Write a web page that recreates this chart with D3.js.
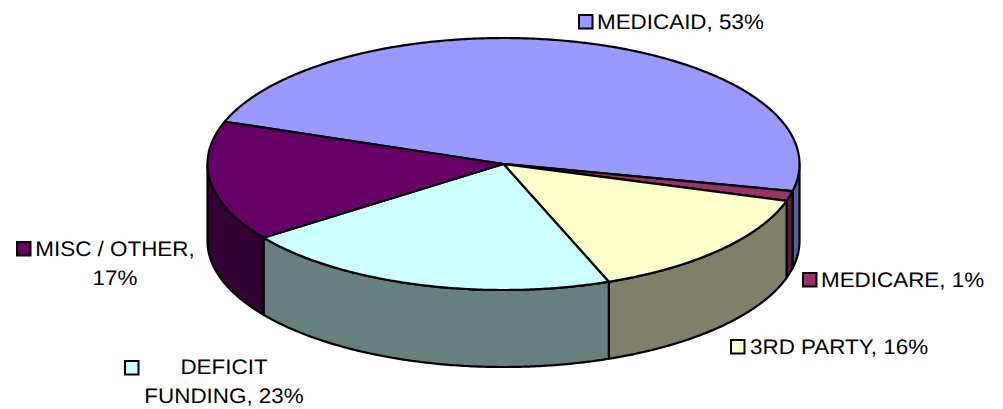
<!DOCTYPE html>
<html><head><meta charset="utf-8">
<script src="https://cdn.jsdelivr.net/npm/d3@7/dist/d3.min.js"></script>
<style>html,body{margin:0;padding:0;background:#fff}svg{display:block}text{font-family:"Liberation Sans",Arial,sans-serif;font-size:21px;fill:#000;text-rendering:geometricPrecision}</style>
</head><body><svg id="c" width="1003" height="409"></svg>
<script>
const categories=["MEDICAID","MEDICARE","3RD PARTY","DEFICIT FUNDING","MISC / OTHER"];
const values=[53,1.4,16,23,17];
const topColors=["#9999ff","#993366","#ffffcc","#ccffff","#660066"];
const sideColors=["#5c5c99","#5c1f3d","#80806a","#668080","#330033"];
const labelLines=[["MEDICAID, 53%"],["MEDICARE, 1%"],["3RD PARTY, 16%"],["DEFICIT","FUNDING, 23%"],["MISC / OTHER,","17%"]];
const keyX=[578,802,730,124,16], keyY=[14,272,339,360,241];
const textX=[597,821,750,224,115], textY=[28.5,286.5,353.5,374,256], lineGap=29;
const stretch=1.067;

const cx=503.5,cy=164,rx=296,ry=126,depth=77;
const svg=d3.select("#c");
const pie=d3.pie().sort(null).value(d=>d).startAngle(289.6*Math.PI/180).endAngle((289.6+360)*Math.PI/180);
const arcs=pie(values);
const px=a=>cx+rx*Math.sin(a), py=a=>cy-ry*Math.cos(a);
const STEP=0.01;
function pts(a0,a1){const out=[];const n=Math.max(2,Math.ceil((a1-a0)/STEP));
  d3.range(n+1).forEach(i=>{const a=a0+(a1-a0)*i/n;out.push([px(a),py(a)]);});return out;}
const line=d3.line();
const TAU=2*Math.PI;
function wall(a0,a1){
  const parts=[];
  for(const k of [-1,0,1]){
    const lo=Math.max(a0,Math.PI/2+k*TAU), hi=Math.min(a1,3*Math.PI/2+k*TAU);
    if(hi>lo)parts.push([lo,hi]);
  }
  return parts;
}
const g=svg.append("g").attr("stroke","#000").attr("stroke-width",2.2).attr("stroke-linejoin","round");
arcs.forEach((d,i)=>{
  wall(d.startAngle,d.endAngle).forEach(([lo,hi])=>{
    const t=pts(lo,hi);
    const b=t.slice().reverse().map(p=>[p[0],p[1]+depth]);
    g.append("path").attr("d",line(t.concat(b))+"Z").attr("fill",sideColors[i]);
  });
});
arcs.forEach((d,i)=>{
  const t=pts(d.startAngle,d.endAngle);
  g.append("path").attr("d",line([[cx,cy]].concat(t))+"Z").attr("fill",topColors[i]);
});
categories.forEach((c,i)=>{
  svg.append("rect").attr("x",keyX[i]+1).attr("y",keyY[i]+1).attr("width",13.5).attr("height",13.5)
    .attr("fill",topColors[i]).attr("stroke","#000").attr("stroke-width",2);
  labelLines[i].forEach((s,j)=>{
    svg.append("text").attr("transform",`translate(${textX[i]},${textY[i]+j*lineGap}) scale(${stretch},1)`)
      .attr("text-anchor",i>=3?"middle":"start").text(s);
  });
});
</script></body></html>
